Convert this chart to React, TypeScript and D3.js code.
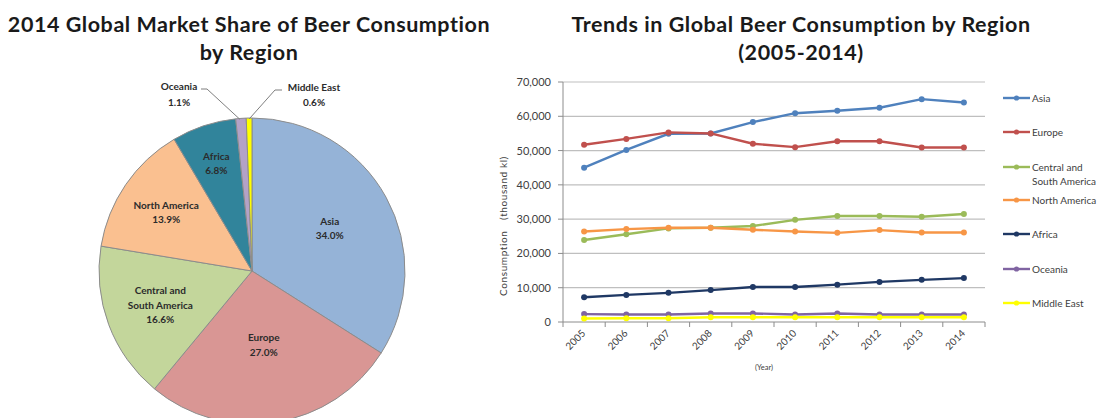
import React from "react";
import * as d3 from "d3";

const regions = ["Asia", "Europe", "Central and South America", "North America", "Africa", "Oceania", "Middle East"];
const shares = [34.0, 27.0, 16.6, 13.9, 6.8, 1.1, 0.6];
const pieColors = ["#95B3D7", "#D99694", "#C3D69B", "#FAC090", "#31849B", "#B3A2C7", "#FFFF00"];
const lineColors = ["#4F81BD", "#C0504D", "#9BBB59", "#F79646", "#1F3864", "#8064A2", "#FFFF00"];

const years = ["2005", "2006", "2007", "2008", "2009", "2010", "2011", "2012", "2013", "2014"];
const asia = [45000, 50200, 54900, 55000, 58300, 60900, 61600, 62500, 65000, 64000];
const europe = [51700, 53400, 55300, 55000, 52000, 51000, 52700, 52700, 50900, 50900];
const centralSouthAmerica = [23900, 25600, 27300, 27500, 28000, 29800, 30900, 30900, 30700, 31500];
const northAmerica = [26400, 27100, 27500, 27500, 26900, 26400, 26000, 26800, 26100, 26100];
const africa = [7200, 7900, 8500, 9300, 10200, 10200, 10900, 11700, 12300, 12800];
const oceania = [2300, 2200, 2200, 2500, 2500, 2200, 2500, 2200, 2200, 2200];
const middleEast = [1000, 1100, 1100, 1400, 1400, 1400, 1400, 1400, 1400, 1400];
const yTicks = [0, 10000, 20000, 30000, 40000, 50000, 60000, 70000];

const seriesValues = [asia, europe, centralSouthAmerica, northAmerica, africa, oceania, middleEast];

const FONT = "Lato, 'Open Sans', sans-serif";

export default function App() {
  // Pie
  const cx = 252, cy = 271, r = 153;
  const pie = d3.pie<number>().sort(null).value((d) => d)(shares);
  const arc = d3.arc<d3.PieArcDatum<number>>().innerRadius(0).outerRadius(r);
  const labelRadius = [0.58, 0.49, 0.64, 0.68, 0.74];

  // Line chart
  const x0 = 563, x1 = 985, yTop = 82, yBot = 322;
  const xBand = d3.scaleBand<string>().domain(years).range([x0, x1]);
  const y = d3.scaleLinear().domain([0, 70000]).range([yBot, yTop]);
  const line = d3.line<number>()
    .x((_, i) => (xBand(years[i]) as number) + xBand.bandwidth() / 2)
    .y((d) => y(d));
  const fmt = d3.format(",");

  const legendY = [98, 132, 167, 200, 234, 269, 303];

  const outside = (i: number) => {
    const a = pie[i];
    const mid = (a.startAngle + a.endAngle) / 2;
    return [cx + Math.sin(mid) * r, cy - Math.cos(mid) * r];
  };
  const oc = outside(5);
  const me = outside(6);

  const titleProps = { fontSize: 21.5, fontWeight: 700, fill: "#1a1a1a", letterSpacing: 0.55, textAnchor: "middle" as const };

  return (
    <svg width={1114} height={418} style={{ display: "block", position: "absolute", left: 0, top: 0, background: "#fff" }} fontFamily={FONT}>
      <rect width={1114} height={418} fill="#fff" />
      {/* Titles */}
      <text x={249} y={32} {...titleProps}>2014 Global Market Share of Beer Consumption</text>
      <text x={249} y={60} {...titleProps}>by Region</text>
      <text x={801} y={32} {...titleProps}>Trends in Global Beer Consumption by Region</text>
      <text x={801} y={60} {...titleProps}>(2005-2014)</text>

      {/* Pie */}
      <g transform={`translate(${cx},${cy})`}>
        {pie.map((p, i) => (
          <path key={i} d={arc(p) as string} fill={pieColors[i]} stroke="#8c8c8c" strokeWidth={1} />
        ))}
        {pie.slice(0, 5).map((p, i) => {
          const mid = (p.startAngle + p.endAngle) / 2;
          const lr = r * labelRadius[i];
          const lx = Math.sin(mid) * lr;
          const ly = -Math.cos(mid) * lr;
          const words = regions[i] === "Central and South America" ? ["Central and", "South America"] : [regions[i]];
          const lines = [...words, shares[i].toFixed(1) + "%"];
          const h = 14.5;
          return (
            <text key={i} x={lx} y={ly - ((lines.length - 1) * h) / 2 + 3.5} textAnchor="middle" fontSize={10} fontWeight={700} fill="#2b2b2b">
              {lines.map((t, j) => (
                <tspan key={j} x={lx} dy={j === 0 ? 0 : h}>{t}</tspan>
              ))}
            </text>
          );
        })}
      </g>
      {/* Outside labels */}
      <polyline points={`${oc[0] - 1},${oc[1] + 1} ${207},${89} ${201},${89}`} fill="none" stroke="#7f7f7f" strokeWidth={1} />
      <polyline points={`${me[0]},${me[1] + 1} ${275},${90} ${282},${90}`} fill="none" stroke="#7f7f7f" strokeWidth={1} />
      <text x={179} y={90} textAnchor="middle" fontSize={10} fontWeight={700} fill="#2b2b2b">Oceania</text>
      <text x={179} y={106} textAnchor="middle" fontSize={10} fontWeight={700} fill="#2b2b2b">{shares[5].toFixed(1)}%</text>
      <text x={314} y={91} textAnchor="middle" fontSize={10} fontWeight={700} fill="#2b2b2b">Middle East</text>
      <text x={314} y={106} textAnchor="middle" fontSize={10} fontWeight={700} fill="#2b2b2b">{shares[6].toFixed(1)}%</text>

      {/* Line chart grid */}
      {yTicks.map((t) => (
        <g key={t}>
          {t > 0 && <line x1={x0} x2={x1} y1={y(t)} y2={y(t)} stroke="#BFBFBF" strokeWidth={1.2} />}
          <line x1={x0 - 5} x2={x0} y1={y(t)} y2={y(t)} stroke="#8c8c8c" />
          <text x={551} y={y(t) + 4} textAnchor="end" fontSize={11} fill="#404040">{fmt(t)}</text>
        </g>
      ))}
      <line x1={x0} x2={x0} y1={yTop} y2={yBot} stroke="#8c8c8c" />
      <line x1={x0} x2={x1} y1={yBot} y2={yBot} stroke="#8c8c8c" />
      {years.map((yr, i) => (
        <line key={"t" + i} x1={(xBand(yr) as number)} x2={(xBand(yr) as number)} y1={yBot} y2={yBot + 5} stroke="#8c8c8c" />
      ))}
      <line x1={x1} x2={x1} y1={yBot} y2={yBot + 5} stroke="#8c8c8c" />
      {years.map((yr) => {
        const cxx = (xBand(yr) as number) + xBand.bandwidth() / 2;
        return (
          <text key={yr} transform={`translate(${cxx + 2},${yBot + 12}) rotate(-45)`} textAnchor="end" fontSize={10} fill="#404040">{yr}</text>
        );
      })}
      <text x={764} y={370} textAnchor="middle" fontSize={7.5} fill="#404040">(Year)</text>
      <text transform={`translate(507,226) rotate(-90)`} textAnchor="middle" fontSize={10} fill="#404040" letterSpacing={0.6}>Consumption　(thousand kl)</text>

      {/* Series */}
      {seriesValues.map((vals, s) => (
        <g key={s}>
          <path d={line(vals) as string} fill="none" stroke={lineColors[s]} strokeWidth={2.4} />
          {vals.map((v, i) => (
            <circle key={i} cx={(xBand(years[i]) as number) + xBand.bandwidth() / 2} cy={y(v)} r={3} fill={lineColors[s]} />
          ))}
        </g>
      ))}

      {/* Legend */}
      {regions.map((name, i) => {
        const words = name === "Central and South America" ? ["Central and", "South America"] : [name];
        return (
          <g key={name}>
            <line x1={1003} x2={1030} y1={legendY[i]} y2={legendY[i]} stroke={lineColors[i]} strokeWidth={2.4} />
            <circle cx={1016.5} cy={legendY[i]} r={2.6} fill={lineColors[i]} />
            <text x={1032} y={legendY[i] + 3.5} fontSize={10} fill="#404040">
              {words.map((w, j) => (
                <tspan key={j} x={1032} dy={j === 0 ? 0 : 14}>{w}</tspan>
              ))}
            </text>
          </g>
        );
      })}
    </svg>
  );
}
